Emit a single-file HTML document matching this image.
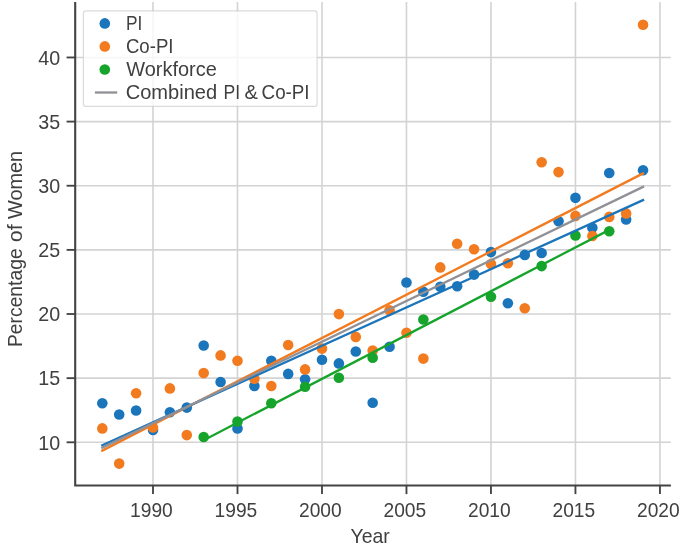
<!DOCTYPE html>
<html><head><meta charset="utf-8"><title>Percentage of Women</title>
<style>html,body{margin:0;padding:0;background:#fff}svg{display:block}text{font-family:"Liberation Sans",sans-serif;fill:#404041}</style></head><body>
<svg width="685" height="545" viewBox="0 0 685 545">
<rect width="685" height="545" fill="#fff"/>
<g stroke="#d3d3d5" stroke-width="1.6" fill="none">
<line x1="75.2" y1="442.3" x2="670.9" y2="442.3"/>
<line x1="75.2" y1="378.16" x2="670.9" y2="378.16"/>
<line x1="75.2" y1="314.02" x2="670.9" y2="314.02"/>
<line x1="75.2" y1="249.88" x2="670.9" y2="249.88"/>
<line x1="75.2" y1="185.74" x2="670.9" y2="185.74"/>
<line x1="75.2" y1="121.6" x2="670.9" y2="121.6"/>
<line x1="75.2" y1="57.46" x2="670.9" y2="57.46"/>
<line x1="153.0" y1="2.0" x2="153.0" y2="485.5"/>
<line x1="237.49" y1="2.0" x2="237.49" y2="485.5"/>
<line x1="321.98" y1="2.0" x2="321.98" y2="485.5"/>
<line x1="406.47" y1="2.0" x2="406.47" y2="485.5"/>
<line x1="490.96" y1="2.0" x2="490.96" y2="485.5"/>
<line x1="575.45" y1="2.0" x2="575.45" y2="485.5"/>
<line x1="659.94" y1="2.0" x2="659.94" y2="485.5"/>
</g>
<g fill="#1b75bb">
<circle cx="102.31" cy="403.3" r="5.3"/>
<circle cx="119.2" cy="414.5" r="5.3"/>
<circle cx="136.1" cy="410.5" r="5.3"/>
<circle cx="153.0" cy="429.9" r="5.3"/>
<circle cx="169.9" cy="412.3" r="5.3"/>
<circle cx="186.8" cy="407.6" r="5.3"/>
<circle cx="203.69" cy="345.5" r="5.3"/>
<circle cx="220.59" cy="382.0" r="5.3"/>
<circle cx="237.49" cy="428.5" r="5.3"/>
<circle cx="254.39" cy="386.0" r="5.3"/>
<circle cx="271.29" cy="360.7" r="5.3"/>
<circle cx="288.18" cy="373.9" r="5.3"/>
<circle cx="305.08" cy="379.3" r="5.3"/>
<circle cx="321.98" cy="359.7" r="5.3"/>
<circle cx="338.88" cy="363.4" r="5.3"/>
<circle cx="355.78" cy="351.5" r="5.3"/>
<circle cx="372.67" cy="402.7" r="5.3"/>
<circle cx="389.57" cy="346.8" r="5.3"/>
<circle cx="406.47" cy="282.5" r="5.3"/>
<circle cx="423.37" cy="291.7" r="5.3"/>
<circle cx="440.27" cy="286.7" r="5.3"/>
<circle cx="457.16" cy="286.2" r="5.3"/>
<circle cx="474.06" cy="274.6" r="5.3"/>
<circle cx="490.96" cy="252.1" r="5.3"/>
<circle cx="507.86" cy="303.2" r="5.3"/>
<circle cx="524.76" cy="254.9" r="5.3"/>
<circle cx="541.65" cy="253.0" r="5.3"/>
<circle cx="558.55" cy="221.2" r="5.3"/>
<circle cx="575.45" cy="197.85" r="5.3"/>
<circle cx="592.35" cy="227.7" r="5.3"/>
<circle cx="609.25" cy="173.0" r="5.3"/>
<circle cx="626.14" cy="219.4" r="5.3"/>
<circle cx="643.04" cy="170.3" r="5.3"/>
</g><g fill="#f27a1f">
<circle cx="102.31" cy="428.4" r="5.3"/>
<circle cx="119.2" cy="463.6" r="5.3"/>
<circle cx="136.1" cy="393.2" r="5.3"/>
<circle cx="153.0" cy="427.4" r="5.3"/>
<circle cx="169.9" cy="388.4" r="5.3"/>
<circle cx="186.8" cy="435.1" r="5.3"/>
<circle cx="203.69" cy="373.1" r="5.3"/>
<circle cx="220.59" cy="355.4" r="5.3"/>
<circle cx="237.49" cy="360.7" r="5.3"/>
<circle cx="254.39" cy="378.7" r="5.3"/>
<circle cx="271.29" cy="386.0" r="5.3"/>
<circle cx="288.18" cy="345.05" r="5.3"/>
<circle cx="305.08" cy="369.4" r="5.3"/>
<circle cx="321.98" cy="348.6" r="5.3"/>
<circle cx="338.88" cy="314.1" r="5.3"/>
<circle cx="355.78" cy="336.9" r="5.3"/>
<circle cx="372.67" cy="350.5" r="5.3"/>
<circle cx="389.57" cy="310.2" r="5.3"/>
<circle cx="406.47" cy="332.8" r="5.3"/>
<circle cx="423.37" cy="358.6" r="5.3"/>
<circle cx="440.27" cy="267.4" r="5.3"/>
<circle cx="457.16" cy="243.8" r="5.3"/>
<circle cx="474.06" cy="249.2" r="5.3"/>
<circle cx="490.96" cy="264.0" r="5.3"/>
<circle cx="507.86" cy="263.2" r="5.3"/>
<circle cx="524.76" cy="308.2" r="5.3"/>
<circle cx="541.65" cy="162.25" r="5.3"/>
<circle cx="558.55" cy="172.1" r="5.3"/>
<circle cx="575.45" cy="215.9" r="5.3"/>
<circle cx="592.35" cy="236.0" r="5.3"/>
<circle cx="609.25" cy="216.9" r="5.3"/>
<circle cx="626.14" cy="213.4" r="5.3"/>
<circle cx="643.04" cy="24.7" r="5.3"/>
</g><g fill="#16a42c">
<circle cx="203.69" cy="437.0" r="5.3"/>
<circle cx="237.49" cy="421.6" r="5.3"/>
<circle cx="271.29" cy="403.3" r="5.3"/>
<circle cx="305.08" cy="386.8" r="5.3"/>
<circle cx="338.88" cy="377.8" r="5.3"/>
<circle cx="372.67" cy="357.7" r="5.3"/>
<circle cx="423.37" cy="319.5" r="5.3"/>
<circle cx="490.96" cy="296.7" r="5.3"/>
<circle cx="541.65" cy="266.1" r="5.3"/>
<circle cx="575.45" cy="235.5" r="5.3"/>
<circle cx="609.25" cy="231.3" r="5.3"/>
</g>
<g stroke-width="2.3" stroke-linecap="square" fill="none">
<line x1="102.31" y1="450.6" x2="643.04" y2="173.4" stroke="#f27a1f"/>
<line x1="102.31" y1="445.2" x2="643.04" y2="200.1" stroke="#1b75bb"/>
<line x1="203.69" y1="440.2" x2="609.25" y2="229.9" stroke="#16a42c"/>
<line x1="102.31" y1="447.6" x2="643.04" y2="186.9" stroke="#909097"/>
</g>
<g stroke="#434345" fill="none">
<path stroke-width="2.1" d="M75.2 2.0 V485.5 H670.9"/>
<g stroke-width="1.85">
<line x1="66.6" y1="442.3" x2="75.2" y2="442.3"/>
<line x1="66.6" y1="378.16" x2="75.2" y2="378.16"/>
<line x1="66.6" y1="314.02" x2="75.2" y2="314.02"/>
<line x1="66.6" y1="249.88" x2="75.2" y2="249.88"/>
<line x1="66.6" y1="185.74" x2="75.2" y2="185.74"/>
<line x1="66.6" y1="121.6" x2="75.2" y2="121.6"/>
<line x1="66.6" y1="57.46" x2="75.2" y2="57.46"/>
<line x1="153.0" y1="485.5" x2="153.0" y2="494.1"/>
<line x1="237.49" y1="485.5" x2="237.49" y2="494.1"/>
<line x1="321.98" y1="485.5" x2="321.98" y2="494.1"/>
<line x1="406.47" y1="485.5" x2="406.47" y2="494.1"/>
<line x1="490.96" y1="485.5" x2="490.96" y2="494.1"/>
<line x1="575.45" y1="485.5" x2="575.45" y2="494.1"/>
<line x1="659.94" y1="485.5" x2="659.94" y2="494.1"/>
</g></g>
<g font-size="20.4">
<text x="60.25" y="449.55" text-anchor="end" textLength="21.9" lengthAdjust="spacingAndGlyphs">10</text>
<text x="60.25" y="385.41" text-anchor="end" textLength="21.9" lengthAdjust="spacingAndGlyphs">15</text>
<text x="60.25" y="321.27" text-anchor="end" textLength="21.9" lengthAdjust="spacingAndGlyphs">20</text>
<text x="60.25" y="257.13" text-anchor="end" textLength="21.9" lengthAdjust="spacingAndGlyphs">25</text>
<text x="60.25" y="192.99" text-anchor="end" textLength="21.9" lengthAdjust="spacingAndGlyphs">30</text>
<text x="60.25" y="128.85" text-anchor="end" textLength="21.9" lengthAdjust="spacingAndGlyphs">35</text>
<text x="60.25" y="64.71" text-anchor="end" textLength="21.9" lengthAdjust="spacingAndGlyphs">40</text>
<text x="151.4" y="517.2" text-anchor="middle" textLength="42.7" lengthAdjust="spacingAndGlyphs">1990</text>
<text x="235.89" y="517.2" text-anchor="middle" textLength="42.7" lengthAdjust="spacingAndGlyphs">1995</text>
<text x="320.38" y="517.2" text-anchor="middle" textLength="42.7" lengthAdjust="spacingAndGlyphs">2000</text>
<text x="404.87" y="517.2" text-anchor="middle" textLength="42.7" lengthAdjust="spacingAndGlyphs">2005</text>
<text x="489.36" y="517.2" text-anchor="middle" textLength="42.7" lengthAdjust="spacingAndGlyphs">2010</text>
<text x="573.85" y="517.2" text-anchor="middle" textLength="42.7" lengthAdjust="spacingAndGlyphs">2015</text>
<text x="658.34" y="517.2" text-anchor="middle" textLength="42.7" lengthAdjust="spacingAndGlyphs">2020</text>
<text x="370.2" y="543.0" text-anchor="middle" textLength="39.3" lengthAdjust="spacingAndGlyphs">Year</text>
<text transform="translate(21.7 345.6) rotate(-90)"><tspan x="-1.4" textLength="98.6" lengthAdjust="spacingAndGlyphs">Percentage</tspan> <tspan x="103.4" textLength="18" lengthAdjust="spacingAndGlyphs">of</tspan> <tspan x="126.6" textLength="68.2" lengthAdjust="spacingAndGlyphs">Women</tspan></text>
</g>
<rect x="83.4" y="10.9" width="233.7" height="95.4" rx="2.6" ry="2.6" fill="#fff" fill-opacity="0.8" stroke="#cccccc" stroke-opacity="0.7" stroke-width="1.2"/>
<circle cx="104.8" cy="23.4" r="5.3" fill="#1b75bb"/>
<circle cx="104.8" cy="46.4" r="5.3" fill="#f27a1f"/>
<circle cx="104.8" cy="69.5" r="5.3" fill="#16a42c"/>
<line x1="94.9" y1="92.5" x2="117.2" y2="92.5" stroke="#909097" stroke-width="2.3"/>
<g font-size="20.4">
<text x="126.1" y="29.7" textLength="16.3" lengthAdjust="spacingAndGlyphs">PI</text>
<text x="125.9" y="53.1" textLength="47.6" lengthAdjust="spacingAndGlyphs">Co-PI</text>
<text x="126.2" y="76.2" textLength="90.6" lengthAdjust="spacingAndGlyphs">Workforce</text>
<text y="99.1"><tspan x="125.7" textLength="91.5" lengthAdjust="spacingAndGlyphs">Combined</tspan> <tspan x="223.5" textLength="16.6" lengthAdjust="spacingAndGlyphs">PI</tspan> <tspan x="244.6" textLength="13.4" lengthAdjust="spacingAndGlyphs">&amp;</tspan> <tspan x="261.6" textLength="48" lengthAdjust="spacingAndGlyphs">Co-PI</tspan></text>
</g>
</svg></body></html>
